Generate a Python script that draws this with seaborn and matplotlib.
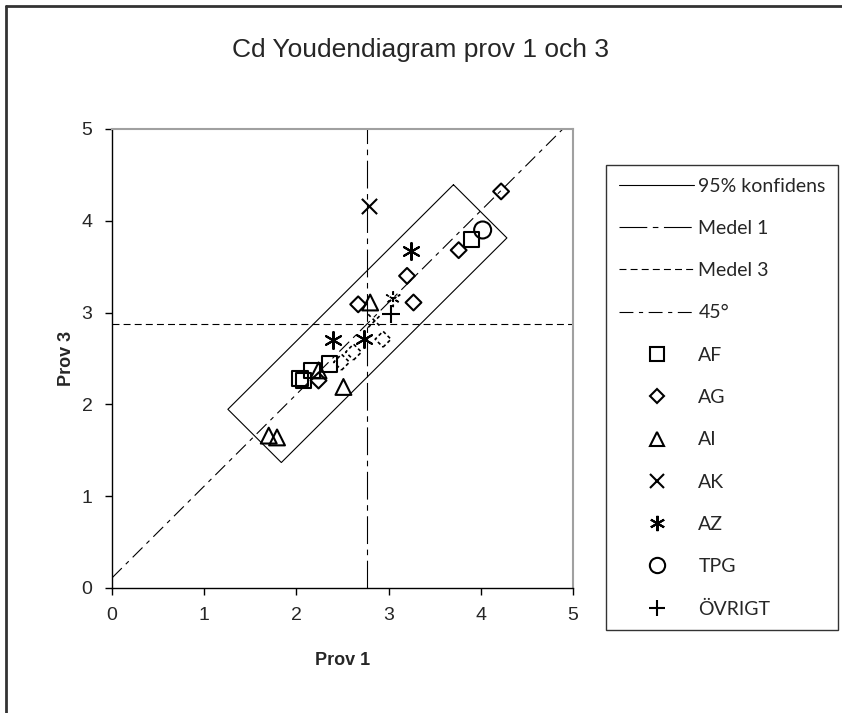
import numpy as np
import pandas as pd
import matplotlib
matplotlib.use("Agg")
import matplotlib.pyplot as plt
from matplotlib.lines import Line2D
import seaborn as sns

# Lab results, Cd, sample 1 (x) vs sample 3 (y)
af_x = [2.04, 2.08, 2.17, 2.36, 3.90]
af_y = [2.28, 2.26, 2.37, 2.44, 3.80]
ag_x = [2.24, 2.67, 3.20, 3.27, 3.76, 4.22]
ag_y = [2.26, 3.09, 3.40, 3.11, 3.68, 4.32]
ai_x = [1.70, 1.79, 2.24, 2.51, 2.80]
ai_y = [1.66, 1.64, 2.37, 2.19, 3.11]
ak_x = [2.79]
ak_y = [4.16]
az_x = [2.40, 2.73, 3.24]
az_y = [2.70, 2.71, 3.67]
tpg_x = [4.02]
tpg_y = [3.90]
ovr_x = [3.03]
ovr_y = [2.99]
# points partly hidden behind the 45-degree line
faint_ag_x = [2.49, 2.62, 2.94]
faint_ag_y = [2.46, 2.57, 2.71]
faint_ak_x = [2.85]
faint_ak_y = [2.91]
faint_az_x = [3.05]
faint_az_y = [3.15]

mean_1 = 2.77
mean_3 = 2.88
conf_half_len = 1.73   # along the 45-degree direction
conf_half_wid = 0.41   # across it

legend_labels = ["95% konfidens", "Medel 1", "Medel 3", "45°",
                 "AF", "AG", "AI", "AK", "AZ", "TPG", "ÖVRIGT"]

sns.set_theme(style="white")
plt.rcParams["font.family"] = ["Liberation Sans", "DejaVu Sans"]
plt.rcParams["lines.scale_dashes"] = False

DASH_M1 = [20, 4, 4, 4]
DASH_M3 = [5, 3]
DASH_45 = [10, 4, 3, 4]

W, H = 842, 713
fig = plt.figure(figsize=(W / 100, H / 100), dpi=100)
ax = fig.add_axes([112 / W, 1 - 588 / H, (573 - 112) / W, (588 - 129) / H])

# outer chart frame
fig.add_artist(Line2D([6 / W, 6 / W], [0, 1 - 6 / H], transform=fig.transFigure,
                      color="#333333", lw=2))
fig.add_artist(Line2D([6 / W, 1], [1 - 6 / H, 1 - 6 / H], transform=fig.transFigure,
                      color="#333333", lw=2))

# reference lines
diag = pd.DataFrame({"x": [0, 5 - (mean_3 - mean_1)],
                     "y": [mean_3 - mean_1, 5]})
sns.lineplot(data=diag, x="x", y="y", ax=ax, color="black", lw=0.8,
             estimator=None, sort=False)
ax.lines[-1].set_dashes(DASH_45)
ax.axvline(mean_1, color="black", lw=0.8, dashes=DASH_M1)
ax.axhline(mean_3, color="black", lw=0.8, dashes=DASH_M3)

# confidence rectangle around the mean point
u = np.array([1, 1]) / np.sqrt(2)
v = np.array([-1, 1]) / np.sqrt(2)
c = np.array([mean_1, mean_3])
corners = [c + conf_half_len * u + conf_half_wid * v,
           c + conf_half_len * u - conf_half_wid * v,
           c - conf_half_len * u - conf_half_wid * v,
           c - conf_half_len * u + conf_half_wid * v]
corners.append(corners[0])
rect = pd.DataFrame(corners, columns=["x", "y"])
sns.lineplot(data=rect, x="x", y="y", ax=ax, color="black", lw=0.8,
             estimator=None, sort=False)

asterisk = (6, 2, 0)


def scatter(xs, ys, marker, s, lw=1.5, ls="solid", filled=True):
    sns.scatterplot(x=xs, y=ys, ax=ax, marker=marker, s=s, color="black",
                    zorder=5, legend=False)
    coll = ax.collections[-1]
    if filled:
        coll.set_facecolor("none")
    coll.set_edgecolor("black")
    coll.set_linewidth(lw)
    coll.set_linestyle(ls)


scatter(faint_ag_x, faint_ag_y, "D", 65, lw=1.2, ls=(0, (2.5, 2)))
scatter(faint_ak_x, faint_ak_y, "x", 90, lw=1.2, ls=(0, (2.5, 2)), filled=False)
scatter(faint_az_x, faint_az_y, asterisk, 120, lw=1.2, ls=(0, (2.5, 2)), filled=False)
scatter(af_x, af_y, "s", 120)
scatter(ag_x, ag_y, "D", 65)
scatter(ai_x, ai_y, "^", 130)
scatter(ak_x, ak_y, "x", 120, filled=False)
scatter(az_x, az_y, asterisk, 150, filled=False)
scatter(tpg_x, tpg_y, "o", 150)
scatter(ovr_x, ovr_y, "+", 150, filled=False)

ax.set_xlim(0, 5)
ax.set_ylim(0, 5)
ax.set_xticks(range(6))
ax.set_yticks(range(6))
ax.tick_params(axis="both", which="major", direction="out", length=5, width=1,
               color="black", labelsize=14, pad=9, bottom=True, left=True)
for side in ["top", "right"]:
    ax.spines[side].set_color("#a0a0a0")
    ax.spines[side].set_linewidth(1.5)
for side in ["left", "bottom"]:
    ax.spines[side].set_color("black")
    ax.spines[side].set_linewidth(1)
ax.set_xlabel("Prov 1", fontsize=13, fontweight="bold", labelpad=20)
ax.set_ylabel("Prov 3", fontsize=13, fontweight="bold", labelpad=5)
ax.grid(False)

fig.text(0.5, 1 - 50 / H, "Cd Youdendiagram prov 1 och 3", ha="center",
         va="center", fontsize=19)

handles = [
    Line2D([], [], color="black", lw=0.8),
    Line2D([], [], color="black", lw=0.8, dashes=DASH_M1),
    Line2D([], [], color="black", lw=0.8, dashes=DASH_M3),
    Line2D([], [], color="black", lw=0.8, dashes=DASH_45),
    Line2D([], [], ls="none", marker="s", ms=10, mfc="none", mec="black", mew=1.5),
    Line2D([], [], ls="none", marker="D", ms=7.5, mfc="none", mec="black", mew=1.5),
    Line2D([], [], ls="none", marker="^", ms=10, mfc="none", mec="black", mew=1.5),
    Line2D([], [], ls="none", marker="x", ms=10, mec="black", mew=1.5),
    Line2D([], [], ls="none", marker=asterisk, ms=11, mec="black", mew=1.5),
    Line2D([], [], ls="none", marker="o", ms=11, mfc="none", mec="black", mew=1.5),
    Line2D([], [], ls="none", marker="+", ms=12, mec="black", mew=1.5),
]
leg = fig.legend(handles, legend_labels, loc="upper left",
                 bbox_to_anchor=(606 / W, 1 - 165 / H),
                 prop={"family": ["Lato", "DejaVu Sans"], "size": 14},
                 frameon=True, fancybox=False, edgecolor="black",
                 handlelength=3.9, handletextpad=0.2, labelspacing=1.3,
                 borderpad=0.65, borderaxespad=0)
leg.get_frame().set_linewidth(1)

fig.savefig("out.png", dpi=100, facecolor="white")
